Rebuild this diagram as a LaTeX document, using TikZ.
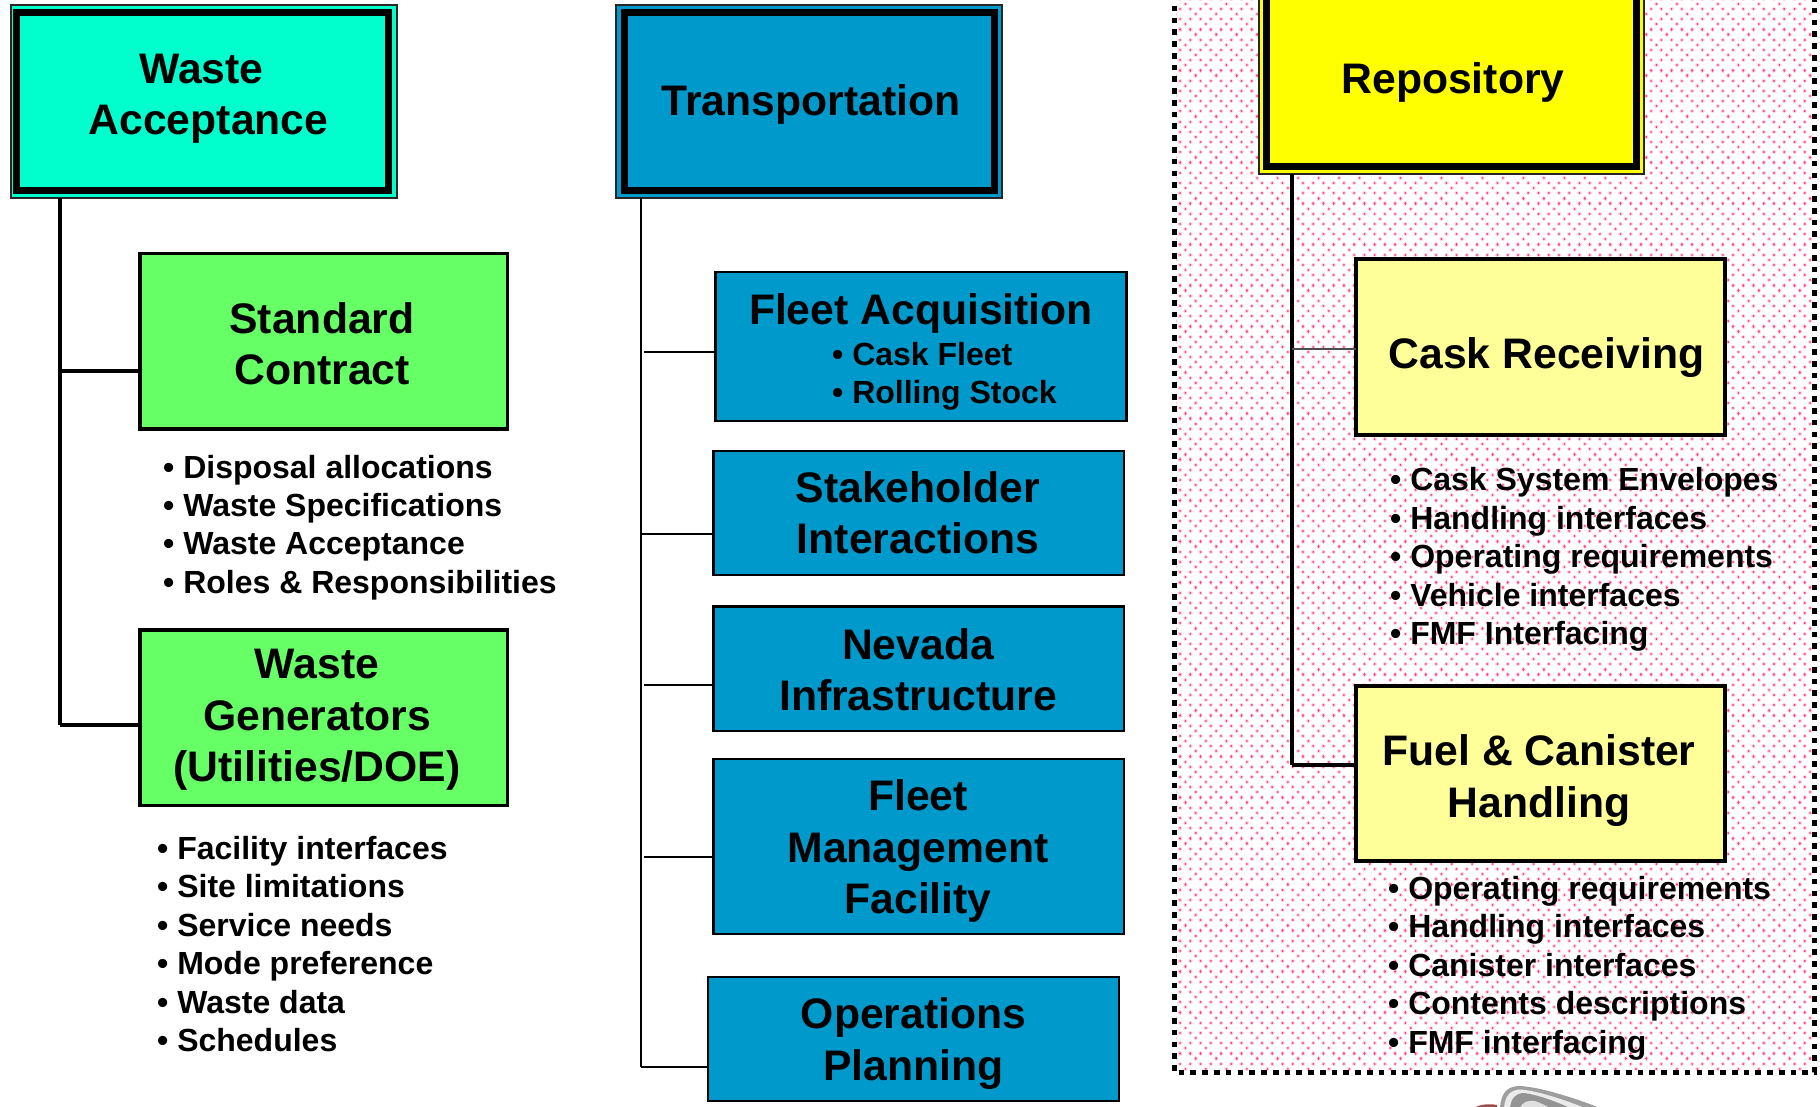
\documentclass[tikz,border=0pt]{standalone}
\usepackage{fontspec}
\setmainfont{Liberation Sans}[BoldFont={Liberation Sans Bold}]
\definecolor{wacyan}{HTML}{00FFCC}
\definecolor{tblue}{HTML}{0099CC}
\definecolor{ryellow}{HTML}{FFFF00}
\definecolor{pyellow}{HTML}{FFFF99}
\definecolor{sgreen}{HTML}{66FF66}
\definecolor{dotcore}{HTML}{FF3A88}
\definecolor{dothalo}{HTML}{FFD4E4}
\newcommand{\bigf}{\fontsize{42.7}{51.3}\selectfont\bfseries}
\newcommand{\smf}{\fontsize{32}{38.4}\selectfont\bfseries}
\tikzset{
  x=1pt,y=-1pt,
  boxbase/.style={rectangle,inner sep=0pt,outer sep=0pt},
  outerframe/.style={boxbase,draw=black!85,line width=1.5pt},
  innerframe/.style={boxbase,draw=black,line width=7.2pt},
  subbox/.style={boxbase,draw=black,line width=3.4pt},
  bluebox/.style={subbox,fill=tblue,line width=2.6pt},
  big/.style={font=\bigf,align=center,text=black,inner sep=0pt},
  list/.style={font=\smf,align=left,text=black,inner sep=0pt,anchor=west},
  thick line/.style={draw=black,line width=3.4pt},
  thin line/.style={draw=black,line width=2pt},
  hair line/.style={draw=black!70,line width=1.2pt},
  halo/.style={draw=dothalo,line width=4.2pt,line cap=round},
  core/.style={draw=dotcore,line width=2.2pt,line cap=round},
  p10/.style={dash pattern=on 0.01pt off 10.23pt},
  p20/.style={dash pattern=on 0.01pt off 20.47pt},
}
\newcommand{\bx}[6]{%
  \pgfmathsetmacro{\bw}{#5-#3}\pgfmathsetmacro{\bh}{#6-#4}%
  \pgfmathsetmacro{\bcx}{(#3+#5)/2}\pgfmathsetmacro{\bcy}{(#4+#6)/2}%
  \node[#2,minimum width=\bw pt,minimum height=\bh pt] (#1) at (\bcx,\bcy) {};%
}
\newcommand{\dotrow}[3]{% style, start x, y
  \draw[halo,#1] (#2,#3) -- (1830,#3);
  \draw[core,#1] (#2,#3) -- (1830,#3);
}
\begin{document}
\begin{tikzpicture}
\useasboundingbox (0,0) rectangle (1820,1106);
\clip (0,0) rectangle (1820,1106);
\fill[white] (0,0) rectangle (1820,1106);

% pink dotted field of the repository group
\begin{scope}
  \clip (1176,0) rectangle (1812,1070.5);
  \foreach \k in {0,...,209}{
    \pgfmathsetmacro{\ry}{992+5.12*(\k-194)}
    \pgfmathtruncatemacro{\rm}{mod(\k,4)}
    \ifnum\rm=1 \dotrow{p20}{1164.94}{\ry}\fi
    \ifnum\rm=3 \dotrow{p20}{1154.74}{\ry}\fi
    \ifodd\rm\else \dotrow{p10}{1169.82}{\ry}\fi
  }
\end{scope}
\coordinate (gtl) at (1174.4,-6);
\coordinate (gbl) at (1174.4,1072.6);
\coordinate (gbr) at (1814.4,1072.6);
\coordinate (gtr) at (1814.4,-6);
\draw[black,line width=5.4pt,dash pattern=on 5.7pt off 6.07pt] (gtl) -- (gbl) -- (gbr) -- (gtr);

% connector spines anchors
\coordinate (ls) at (60,198);
\coordinate (ms) at (641,198);
\coordinate (rs) at (1292,174);
\coordinate (lb1) at (60,371);
\coordinate (lb2) at (60,725);
\coordinate (mb1) at (644,352);
\coordinate (mb2) at (641,534);
\coordinate (mb3) at (644,685);
\coordinate (mb4) at (644,857);
\coordinate (mb5) at (641,1067);
\coordinate (rb1) at (1292,349);
\coordinate (rb2) at (1292,765);

% top boxes
\bx{waO}{outerframe,fill=wacyan}{11}{5}{397}{198}
\bx{wa}{innerframe,fill=wacyan}{16.5}{12.5}{388.8}{190.4}
\node[big] (waT) at (208.5,98.5) {\hspace*{-14pt}Waste\\Acceptance};
\bx{trO}{outerframe,fill=tblue}{616}{5}{1002}{198}
\bx{tr}{innerframe,fill=tblue}{624.6}{12.5}{994.6}{190.4}
\node[big] (trT) at (811,104.5) {Transportation};
\bx{reO}{outerframe,fill=ryellow}{1259}{-30}{1644}{174}
\bx{re}{innerframe,fill=ryellow}{1266.8}{-30}{1636.6}{166.6}
\node[big] (reT) at (1453,82) {Repository};

% left column
\bx{sc}{subbox,fill=sgreen}{139.8}{253.5}{507.5}{429}
\node[big] (scT) at (322,344) {Standard\\Contract};
\bx{wg}{subbox,fill=sgreen}{139.8}{630}{507.5}{805.5}
\node[big] (wgT) at (317,720) {Waste\\Generators\\(Utilities/DOE)};
\node[list] (scL) at (163,527.5) {• Disposal allocations\\• Waste Specifications\\• Waste Acceptance\\• Roles \& Responsibilities};
\node[list] (wgL) at (157,944) {• Facility interfaces\\• Site limitations\\• Service needs\\• Mode preference\\• Waste data\\• Schedules};

% middle column
\bx{fa}{bluebox}{715.5}{272}{1126.5}{421}
\node[big] (faT) at (921,313.5) {Fleet Acquisition};
\node[list] (faL) at (832,376.5) {• Cask Fleet\\• Rolling Stock};
\bx{si}{bluebox}{713.5}{451}{1124}{575}
\node[big] (siT) at (918,513) {Stakeholder\\Interactions};
\bx{ni}{bluebox}{713.5}{606.5}{1124}{731}
\node[big] (niT) at (918,670) {Nevada\\Infrastructure};
\bx{fm}{bluebox}{713.5}{759}{1124}{934}
\node[big] (fmT) at (918,851) {Fleet\\Management\\Facility};
\bx{op}{bluebox}{708}{977}{1119}{1101}
\node[big] (opT) at (913.5,1043.5) {Operations\\Planning};

% right column
\bx{cr}{subbox,fill=pyellow}{1356}{259}{1725}{435}
\node[big] (crT) at (1546.5,357.5) {Cask Receiving};
\bx{fc}{subbox,fill=pyellow}{1356}{686}{1725}{861}
\node[big] (fcT) at (1539,780.5) {Fuel \& Canister\\Handling};
\node[list] (crL) at (1390,559.5) {• Cask System Envelopes\\• Handling interfaces\\• Operating requirements\\• Vehicle interfaces\\• FMF Interfacing};
\node[list] (fcL) at (1388,968) {• Operating requirements\\• Handling interfaces\\• Canister interfaces\\• Contents descriptions\\• FMF interfacing};

% connectors
\draw[thick line] (waO.south -| ls) -- (lb2);
\draw[thick line] (lb1) -- (lb1 -| sc.west);
\draw[thick line] (lb2) -- (lb2 -| wg.west);
\draw[thin line] (trO.south -| ms) -- (mb5);
\draw[thin line] (mb1) -- (mb1 -| fa.west);
\draw[thin line] (mb2) -- (mb2 -| si.west);
\draw[thin line] (mb3) -- (mb3 -| ni.west);
\draw[thin line] (mb4) -- (mb4 -| fm.west);
\draw[thin line] (mb5) -- (mb5 -| op.west);
\draw[thick line] (reO.south -| rs) -- (rb2);
\draw[hair line] (rb1) -- (rb1 -| cr.west);
\draw[thick line] (rb2) -- (rb2 -| fc.west);

% cut-off picture at the bottom edge
\fill[black!38] (1500,1108) .. controls (1501,1092) and (1508,1086) .. (1520,1086) .. controls (1540,1087) and (1575,1098) .. (1600,1108) -- cycle;
\fill[black!8] (1504,1108) .. controls (1505,1095) and (1511,1089.5) .. (1521,1089.5) .. controls (1538,1091) and (1565,1100) .. (1585,1108) -- cycle;
\fill[black!42] (1510,1108) .. controls (1511,1098) and (1516,1093) .. (1524,1093) .. controls (1538,1095) and (1555,1101) .. (1570,1108) -- cycle;
\fill[black!12] (1520,1108) .. controls (1522,1102) and (1528,1100) .. (1535,1101) .. controls (1540,1103) and (1545,1105) .. (1550,1108) -- cycle;
\fill[red!45!black!70] (1474,1108) .. controls (1480,1104) and (1490,1103.5) .. (1497,1105) -- (1497,1108) -- cycle;
\end{tikzpicture}
\end{document}
